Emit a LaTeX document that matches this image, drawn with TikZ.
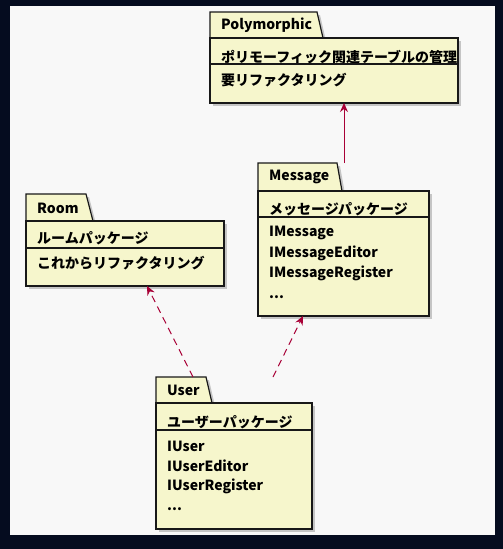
\documentclass[tikz,border=0pt]{standalone}
\usepackage{fontspec}
\setmainfont{Noto Sans CJK JP}
\usetikzlibrary{arrows.meta,shadows}

\definecolor{backdark}{HTML}{050C1F}
\definecolor{panelgray}{HTML}{F8F8F8}
\definecolor{pkgfill}{HTML}{F6F6CC}
\definecolor{pkgline}{HTML}{181818}
\definecolor{deplink}{HTML}{A80036}

\tikzset{
  pkgshadow/.style={drop shadow={shadow xshift=3pt, shadow yshift=-3pt, opacity=0.35, fill=black!60}},
  pkgtab/.style={draw=pkgline, fill=pkgfill, line width=1.2pt, line join=miter, pkgshadow},
  pkgbody/.style={draw=pkgline, fill=pkgfill, line width=1.2pt, pkgshadow, anchor=north west, inner sep=0pt, outer sep=0pt},
  pkgtext/.style={anchor=west, inner sep=0pt, font=\fontsize{14}{16}\selectfont\bfseries},
  pkgsep/.style={draw=pkgline, line width=1.2pt},
  uses/.style={draw=deplink, line width=1pt, -{Stealth[length=9pt, width=8pt, inset=3pt]}},
  usesdash/.style={uses, dash pattern=on 7pt off 5pt}
}

\begin{document}
\begin{tikzpicture}[x=1pt, y=-1pt]
			\useasboundingbox (0,0) rectangle (503,549);
			\fill[backdark] (0,0) rectangle (503,549);
			\fill[panelgray] (10,6) rectangle (495,535);

			% package Polymorphic
			\draw[pkgtab] (210,38) -- (210,12) -- (317,12) -- (323,38) -- cycle;
			\node[pkgbody, minimum width=248pt, minimum height=65pt] (poly) at (210,38) {};
			\node[pkgtext] (polyname) at (221,25) {Polymorphic};
			\node[pkgtext] (polydesc) at (221,57) {ポリモーフィック関連テーブルの管理};
			\draw[pkgsep] (210,64) -- (458,64);
			\node[pkgtext] (polynote) at (221,80) {要リファクタリング};

			% package Room
			\draw[pkgtab] (26,221) -- (26,194) -- (86,194) -- (93,221) -- cycle;
			\node[pkgbody, minimum width=198pt, minimum height=65pt] (room) at (26,221) {};
			\node[pkgtext] (roomname) at (37,208) {Room};
			\node[pkgtext] (roomdesc) at (37,238) {ルームパッケージ};
			\draw[pkgsep] (26,248) -- (224,248);
			\node[pkgtext] (roomnote) at (37,263) {これからリファクタリング};

			% package Message
			\draw[pkgtab] (258,191) -- (258,163) -- (337,163) -- (342,191) -- cycle;
			\node[pkgbody, minimum width=171pt, minimum height=125pt] (msg) at (258,191) {};
			\node[pkgtext] (msgname) at (269,177) {Message};
			\node[pkgtext] (msgdesc) at (269,209) {メッセージパッケージ};
			\draw[pkgsep] (258,217) -- (429,217);
			\node[pkgtext] (msga) at (269,233) {IMessage};
			\node[pkgtext] (msgb) at (269,253) {IMessageEditor};
			\node[pkgtext] (msgc) at (269,273) {IMessageRegister};
			\node[pkgtext] (msgd) at (269,297) {...};

			% package User
			\draw[pkgtab] (156,403) -- (156,377) -- (206,377) -- (212,403) -- cycle;
			\node[pkgbody, minimum width=156pt, minimum height=126pt] (user) at (156,403) {};
			\node[pkgtext] (username) at (167,390) {User};
			\node[pkgtext] (userdesc) at (167,422) {ユーザーパッケージ};
			\draw[pkgsep] (156,430) -- (312,430);
			\node[pkgtext] (usera) at (167,446) {IUser};
			\node[pkgtext] (userb) at (167,466) {IUserEditor};
			\node[pkgtext] (userc) at (167,486) {IUserRegister};
			\node[pkgtext] (userd) at (167,509) {...};

			% dependencies
			\coordinate (msgtop) at (344,163);
			\coordinate (userleft) at (193,377);
			\coordinate (userright) at (273,377);
			\draw[uses] (msgtop) -- (poly.south -| msgtop);
			\draw[usesdash] (userleft) -- (room.south -| 147,0);
			\draw[usesdash] (userright) -- (msg.south -| 303,0);
		\end{tikzpicture}
\end{document}
